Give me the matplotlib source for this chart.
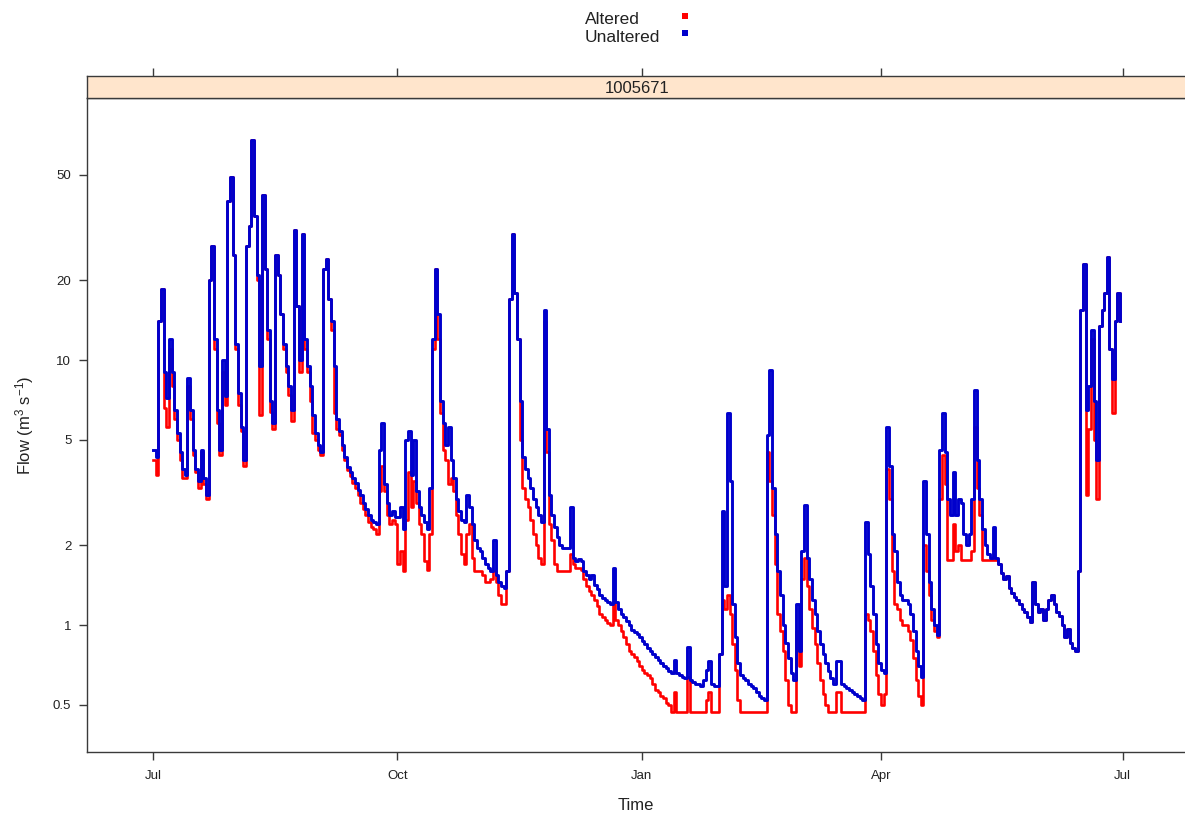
import matplotlib
matplotlib.use("Agg")
import matplotlib.pyplot as plt
from matplotlib.patches import Rectangle
import numpy as np

plt.rcParams['font.family'] = ['Liberation Sans', 'DejaVu Sans']
plt.rcParams['mathtext.fontset'] = 'custom'
plt.rcParams['mathtext.rm'] = 'Liberation Sans'
plt.rcParams['mathtext.it'] = 'Liberation Sans:italic'

# ---------------- data ----------------
station = "1005671"
series_names = ["Altered", "Unaltered"]
tick_days = [0, 92, 184, 274, 365]          # days since 1 July
tick_labels = ["Jul", "Oct", "Jan", "Apr", "Jul"]
y_ticks = [0.5, 1, 2, 5, 10, 20, 50]
y_tick_labels = ["0.5", "1", "2", "5", "10", "20", "50"]

# daily flow, m3/s, starting 1 July
unaltered = [
    4.6, 4.3, 14, 18.5, 9, 7.2, 12, 9, 6.5, 5.3,
    4.5, 3.9, 3.7, 8.6, 6.5, 4.6, 3.9, 3.5, 4.6, 3.6,
    3.1, 20, 27, 12, 6.5, 4.6, 10, 7.3, 40, 49,
    25, 11.5, 7.5, 5.6, 4.2, 27, 32, 68, 35, 21,
    9.5, 42, 22, 13, 7.0, 5.8, 25, 21, 15, 11.5,
    9.5, 8.0, 6.5, 31, 16, 10, 30, 12, 9.5, 8,
    6.2, 5.3, 4.8, 4.5, 22, 24, 17, 14, 9.5, 6.0,
    5.4, 4.8, 4.3, 3.95, 3.8, 3.6, 3.45, 3.25, 3.1, 2.9,
    2.75, 2.6, 2.5, 2.45, 2.4, 4.6, 5.8, 3.4, 2.9, 2.6,
    2.7, 2.55, 2.55, 2.8, 2.3, 5.0, 5.4, 3.7, 5.0, 3.2,
    2.8, 2.6, 2.45, 2.3, 3.3, 12, 22, 15, 7, 5.8,
    4.8, 5.6, 4.2, 3.6, 3.0, 2.7, 2.5, 2.45, 3.1, 2.8,
    2.4, 2.1, 1.95, 1.9, 1.8, 1.7, 1.65, 1.6, 2.1, 1.55,
    1.45, 1.4, 1.38, 1.6, 17, 30, 18, 12, 7.0, 4.3,
    3.9, 3.6, 3.3, 3.0, 2.8, 2.6, 2.45, 15.5, 5.5, 3.1,
    2.6, 2.35, 2.15, 2.0, 1.95, 1.95, 1.95, 2.8, 1.8, 1.75,
    1.78, 1.75, 1.6, 1.55, 1.5, 1.55, 1.42, 1.37, 1.3, 1.27,
    1.25, 1.22, 1.2, 1.65, 1.22, 1.15, 1.1, 1.07, 1.04, 1.0,
    0.96, 0.94, 0.93, 0.9, 0.87, 0.85, 0.82, 0.8, 0.78, 0.76,
    0.74, 0.72, 0.7, 0.69, 0.67, 0.66, 0.74, 0.66, 0.65, 0.64,
    0.63, 0.83, 0.62, 0.61, 0.6, 0.6, 0.59, 0.62, 0.68, 0.73,
    0.6, 0.59, 0.59, 0.78, 2.7, 1.4, 6.3, 3.5, 1.2, 0.9,
    0.72, 0.65, 0.63, 0.62, 0.6, 0.59, 0.58, 0.56, 0.54, 0.53,
    0.52, 5.2, 9.2, 3.3, 2.2, 1.6, 1.3, 1.0, 0.86, 0.75,
    0.66, 0.62, 1.2, 0.8, 1.9, 2.85, 1.8, 1.5, 1.25, 1.1,
    0.95, 0.85, 0.78, 0.72, 0.67, 0.63, 0.6, 0.73, 0.73, 0.6,
    0.59, 0.58, 0.57, 0.56, 0.55, 0.54, 0.53, 0.52, 2.45, 1.85,
    1.4, 1.1, 0.85, 0.72, 0.68, 0.66, 5.6, 4.0, 2.2, 1.9,
    1.45, 1.3, 1.25, 1.25, 1.2, 1.1, 0.95, 0.8, 0.7, 0.64,
    3.5, 2.2, 1.45, 1.15, 1.0, 0.92, 4.6, 6.3, 4.5, 3.0,
    2.6, 3.8, 2.6, 3.0, 2.9, 2.2, 2.0, 2.2, 3.0, 7.7,
    4.2, 3.0, 2.3, 2.0, 1.85, 1.8, 2.35, 1.8, 1.7, 1.58,
    1.5, 1.53, 1.38, 1.32, 1.28, 1.24, 1.2, 1.15, 1.12, 1.07,
    1.03, 1.45, 1.2, 1.12, 1.15, 1.05, 1.15, 1.25, 1.3, 1.2,
    1.12, 1.08, 1.0, 0.9, 0.97, 0.86, 0.82, 0.8, 1.6, 15.5,
    23, 6.5, 8.0, 13, 7, 4.2, 13.5, 15.5, 18, 24.5,
    11, 8.5, 14, 18, 14,
]

altered = [
    4.2, 3.7, 14, 18.5, 6.6, 5.6, 11, 8, 6.0, 5.0,
    4.2, 3.6, 3.6, 8, 6.0, 4.4, 3.8, 3.3, 4.5, 3.4,
    3.0, 20, 27, 11, 5.8, 4.4, 9, 6.8, 40, 49,
    25, 11, 6.8, 5.4, 4.0, 27, 32, 68, 35, 20,
    6.2, 42, 22, 12, 6.4, 5.5, 25, 21, 15, 11,
    9, 7.4, 5.9, 31, 16, 9, 30, 11, 9, 7,
    5.3, 5.0, 4.6, 4.4, 22, 24, 17, 13, 6.3, 5.5,
    5.2, 4.6, 4.2, 3.85, 3.65, 3.45, 3.3, 3.1, 2.9, 2.75,
    2.6, 2.45, 2.35, 2.3, 2.2, 3.2, 4.0, 3.2, 2.6, 2.4,
    2.5, 2.4, 1.7, 1.9, 1.6, 2.5, 3.8, 2.8, 3.5, 2.9,
    2.4, 2.2, 1.75, 1.62, 2.2, 11, 22, 12, 6.3, 4.6,
    4.2, 3.4, 3.6, 3.2, 2.6, 2.2, 1.85, 1.7, 2.2, 2.4,
    1.8, 1.6, 1.6, 1.6, 1.55, 1.45, 1.45, 1.5, 1.6, 1.45,
    1.3, 1.2, 1.2, 1.6, 17, 30, 18, 12, 5.0, 3.3,
    3.0, 2.8, 2.5, 2.2, 2.0, 1.8, 1.7, 14, 4.5, 2.4,
    2.1, 1.7, 1.6, 1.6, 1.6, 1.6, 1.6, 1.85, 1.7, 1.65,
    1.65, 1.62, 1.5, 1.4, 1.35, 1.3, 1.25, 1.18, 1.1, 1.07,
    1.05, 1.02, 1.0, 1.22, 1.05, 1.0, 0.95, 0.9, 0.85, 0.8,
    0.78, 0.76, 0.73, 0.7, 0.68, 0.66, 0.65, 0.63, 0.6, 0.57,
    0.56, 0.54, 0.53, 0.51, 0.5, 0.47, 0.56, 0.47, 0.47, 0.47,
    0.47, 0.64, 0.47, 0.47, 0.47, 0.47, 0.47, 0.47, 0.52, 0.56,
    0.47, 0.47, 0.47, 0.78, 1.25, 1.15, 1.3, 1.1, 0.85, 0.68,
    0.52, 0.47, 0.47, 0.47, 0.47, 0.47, 0.47, 0.47, 0.47, 0.47,
    0.47, 4.5, 3.5, 2.6, 1.7, 1.1, 0.95, 0.8, 0.62, 0.5,
    0.47, 0.47, 0.95, 0.7, 1.5, 1.8, 1.4, 1.15, 0.98, 0.85,
    0.72, 0.62, 0.55, 0.5, 0.47, 0.47, 0.47, 0.56, 0.56, 0.47,
    0.47, 0.47, 0.47, 0.47, 0.47, 0.47, 0.47, 0.47, 1.1, 1.05,
    0.95, 0.8, 0.65, 0.55, 0.5, 0.55, 3.9, 3.0, 1.6, 1.2,
    1.15, 1.05, 1.0, 1.0, 0.95, 0.88, 0.75, 0.62, 0.54, 0.5,
    2.0, 1.6, 1.3, 1.05, 0.95, 0.9, 3.0, 4.4, 3.4, 1.77,
    1.77, 2.4, 1.9, 2.0, 1.77, 1.77, 1.77, 1.77, 1.9, 5.6,
    3.3, 2.6, 1.77, 1.77, 1.77, 1.77, 1.77, 1.77, 1.7, 1.58,
    1.5, 1.53, 1.38, 1.32, 1.28, 1.24, 1.2, 1.15, 1.12, 1.07,
    1.03, 1.45, 1.2, 1.12, 1.15, 1.05, 1.15, 1.25, 1.3, 1.2,
    1.12, 1.08, 1.0, 0.9, 0.97, 0.86, 0.82, 0.8, 1.6, 15.5,
    23, 3.1, 5.5, 12, 5, 3.0, 13.5, 15.5, 18, 24.5,
    11, 6.3, 14, 18, 14,
]

days = np.arange(len(unaltered))

# ---------------- style ----------------
RED = "#FF0000"
BLUE = "#0000CC"
AXCOL = "#3a3a3a"
TXT = "#222222"
STRIP = "#FFE5CC"

W, H = 1185, 813
fig = plt.figure(figsize=(W / 100, H / 100), dpi=100)


def fx(px):
    return px / W


def fy(py):
    return 1 - py / H


ax_l, ax_r, ax_t, ax_b = 87.3, 1186.0, 98.0, 752.3
ax = fig.add_axes([fx(ax_l), fy(ax_b), (ax_r - ax_l) / W, (ax_b - ax_t) / H])
ax.step(days, altered, where='post', color=RED, lw=1.9, zorder=2)
ax.step(days, unaltered, where='post', color=BLUE, lw=2.1, zorder=3)
ax.set_yscale('log')
ax.set_ylim(0.3315, 97.6)
ax.set_xlim(-24.7, 388.8)
ax.set_yticks(y_ticks)
ax.set_yticklabels(y_tick_labels)
ax.yaxis.set_minor_locator(matplotlib.ticker.NullLocator())
ax.set_xticks(tick_days)
ax.set_xticklabels(tick_labels)
ax.tick_params(axis='both', direction='out', length=6, width=1, color=AXCOL,
               labelsize=9.5, labelcolor=TXT)
ax.tick_params(axis='y', pad=5.5)
ax.tick_params(axis='x', pad=7)
for s in ax.spines.values():
    s.set_color(AXCOL)
    s.set_linewidth(1)

# strip
st_t = 76.0
sax = fig.add_axes([fx(ax_l), fy(ax_t), (ax_r - ax_l) / W, (ax_t - st_t) / H],
                   facecolor=STRIP)
sax.set_xlim(ax.get_xlim())
sax.set_yticks([])
sax.set_xticks(tick_days)
sax.tick_params(axis='x', bottom=False, labelbottom=False, top=True, labeltop=False,
                direction='out', length=6, width=1, color=AXCOL)
for s in sax.spines.values():
    s.set_color(AXCOL)
    s.set_linewidth(1)
sax.text(0.5, 0.45, station, transform=sax.transAxes, ha='center', va='center',
         fontsize=12, color=TXT)

# axis titles
fig.text(fx(25), fy(425), r"Flow (m$^{3}$ s$^{-1}$)", rotation=90,
         ha='center', va='center', fontsize=12, color=TXT)
fig.text(fx(636), fy(805), "Time", ha='center', va='center', fontsize=12, color=TXT)

# key
key_y = [19.5, 37.0]
key_cols = [RED, BLUE]
for name, yy, c in zip(series_names, key_y, key_cols):
    fig.text(fx(585), fy(yy), name, ha='left', va='center', fontsize=12.5, color=TXT)
    fig.add_artist(Rectangle((fx(682), fy(yy - 0.5)), 6 / W, 6 / H,
                             transform=fig.transFigure, facecolor=c, edgecolor='none'))

fig.savefig("out.png", dpi=100)
